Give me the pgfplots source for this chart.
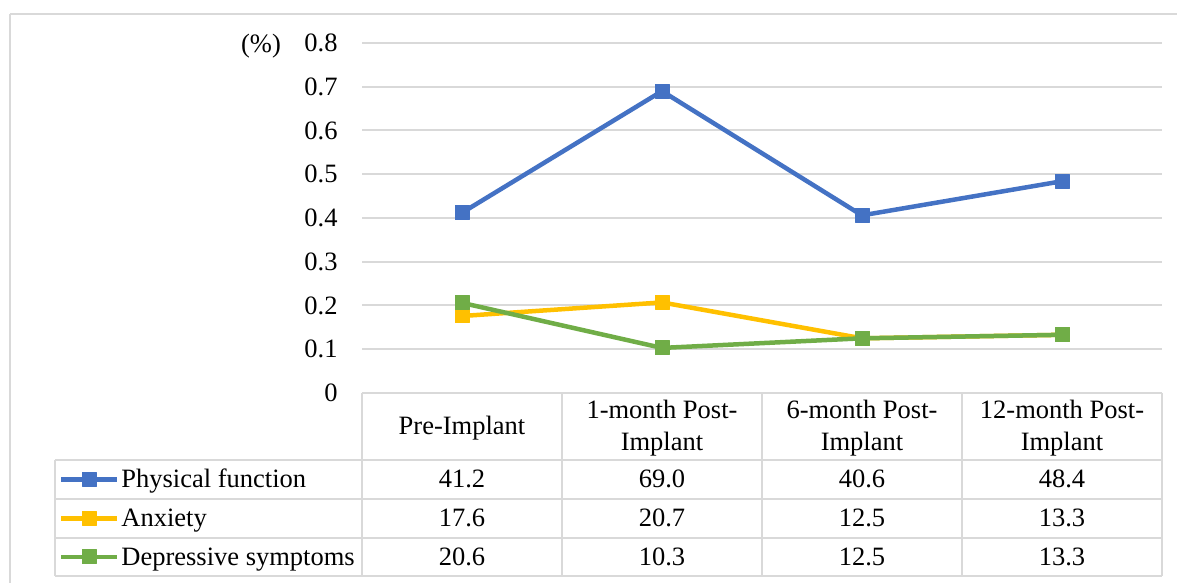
\documentclass[border=0pt]{standalone}
\usepackage{pgfplots}
\pgfplotsset{compat=1.18}
\usepackage{fontspec}
\setmainfont{Liberation Serif}
\definecolor{cblue}{HTML}{4472C4}
\definecolor{cgold}{HTML}{FFC000}
\definecolor{cgreen}{HTML}{70AD47}
\definecolor{cgrid}{HTML}{D9D9D9}
\pgfplotsset{
  ser/.style={color=#1, line width=2.25pt, line join=round, mark=square*, mark size=3.5pt,
    mark options={solid, fill=#1, draw=#1, line width=0.5pt}},
}
\begin{document}
\fontsize{13.25}{15}\selectfont
\begin{tikzpicture}
\path[use as bounding box] (0,0) rectangle (588.5pt,291.5pt);
\begin{scope}[x=0.5pt,y=-0.5pt,shift={(0pt,291.5pt)}]
  % chart border
  \draw[cgrid, line width=1pt] (10,14) -- (1177,14);
  \draw[cgrid, line width=1pt] (10,14) -- (10,583);
  % table grid
  \begin{scope}[cgrid, line width=1pt]
    \draw (362,393) -- (1162,393);
    \foreach \yy in {460,499,538,576} \draw (55,\yy) -- (1162,\yy);
    \draw (55,460) -- (55,576);
    \foreach \xx in {362,562,762,962,1162} \draw (\xx,393) -- (\xx,576);
  \end{scope}
  % header
  \node[anchor=base] at (462,435) {Pre-Implant};
  \node[anchor=base] at (662,419) {1-month Post-};
  \node[anchor=base] at (662,451) {Implant};
  \node[anchor=base] at (862,419) {6-month Post-};
  \node[anchor=base] at (862,451) {Implant};
  \node[anchor=base] at (1062,419) {12-month Post-};
  \node[anchor=base] at (1062,451) {Implant};
  % row labels
  \node[anchor=base west, inner sep=0pt] at (121,488) {Physical function};
  \node[anchor=base west, inner sep=0pt] at (121,527) {Anxiety};
  \node[anchor=base west, inner sep=0pt] at (121,566) {Depressive symptoms};
  % values
  \foreach \xx/\a/\b/\c in {462/41.2/17.6/20.6, 662/69.0/20.7/10.3, 862/40.6/12.5/12.5, 1062/48.4/13.3/13.3}{
    \node[anchor=base] at (\xx,488) {\a};
    \node[anchor=base] at (\xx,527) {\b};
    \node[anchor=base] at (\xx,566) {\c};
  }
  % unit label
  \node[anchor=base, inner sep=0pt] at (261,52.5) {(\%)};
\end{scope}

\begin{axis}[
  at={(181pt,95pt)}, anchor=south west, scale only axis,
  width=400pt, height=175pt,
  xmin=-0.5, xmax=3.5, ymin=0, ymax=0.8,
  xtick=\empty,
  ytick={0,0.1,0.2,0.3,0.4,0.5,0.6,0.7,0.8},
  ymajorgrids, grid style={cgrid, line width=1pt},
  axis line style={draw=none},
  major tick length=0pt,
  /pgf/number format/fixed,
  /pgf/number format/precision=1,
  /pgf/number format/assume math mode=true,
  yticklabel style={anchor=east, inner sep=0pt, xshift=-12pt},
  clip=false,
]
\addplot[ser=cblue] coordinates {(0,0.412) (1,0.690) (2,0.406) (3,0.484)};
\addplot[ser=cgold] coordinates {(0,0.176) (1,0.207) (2,0.125) (3,0.133)};
\addplot[ser=cgreen] coordinates {(0,0.206) (1,0.103) (2,0.125) (3,0.133)};
\end{axis}

\begin{axis}[
  at={(30.5pt,3.5pt)}, anchor=south west, scale only axis,
  width=28pt, height=58pt,
  xmin=0, xmax=1, ymin=-576, ymax=-460,
  hide axis, clip=false,
]
\addplot[ser=cblue, mark indices={2}] coordinates {(0,-479.5) (0.5,-479.5) (1,-479.5)};
\addplot[ser=cgold, mark indices={2}] coordinates {(0,-518.5) (0.5,-518.5) (1,-518.5)};
\addplot[ser=cgreen, mark indices={2}] coordinates {(0,-557) (0.5,-557) (1,-557)};
\end{axis}
\end{tikzpicture}
\end{document}
